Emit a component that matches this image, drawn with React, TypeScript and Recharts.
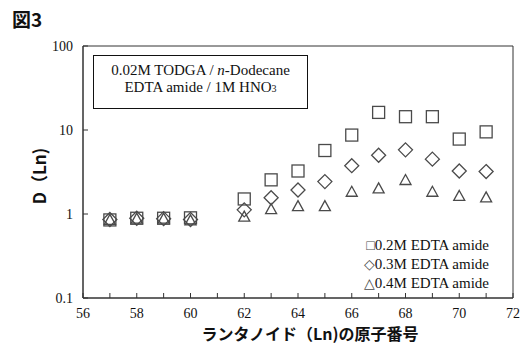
import React from "react";
import {
  ScatterChart,
  Scatter,
  XAxis,
  YAxis,
  ReferenceArea,
} from "recharts";

// atomic numbers of the lanthanides measured (Pm, 61, skipped)
const atomicNumbers = [57, 58, 59, 60, 62, 63, 64, 65, 66, 67, 68, 69, 70, 71];

// distribution ratios D(Ln) for each EDTA amide concentration
const d02M = [0.85, 0.89, 0.89, 0.9, 1.51, 2.55, 3.25, 5.7, 8.7, 16.2, 14.4, 14.4, 7.8, 9.5];
const d03M = [0.86, 0.89, 0.88, 0.86, 1.12, 1.56, 1.93, 2.43, 3.76, 5.0, 5.8, 4.5, 3.25, 3.2];
const d04M = [0.85, 0.88, 0.88, 0.84, 0.93, 1.14, 1.24, 1.24, 1.84, 2.02, 2.54, 1.84, 1.64, 1.58];

const xTicks = [56, 57, 58, 59, 60, 61, 62, 63, 64, 65, 66, 67, 68, 69, 70, 71, 72];
const yTicks = [0.1, 1, 10, 100];

const seriesNames = ["0.2M EDTA amide", "0.3M EDTA amide", "0.4M EDTA amide"];
const legendGlyphs = ["□", "◇", "△"];

const MARK = "#4a4a4a";
const AXIS = "#333";
const INK = "#111";
const SERIF = "'Liberation Serif', 'DejaVu Serif', serif";
const SANS_JP = "'Noto Sans CJK JP', 'Noto Sans', sans-serif";

const toPoints = (ys: number[]) => atomicNumbers.map((x, i) => ({ x, y: ys[i] }));

const SquareMark = (p: any) => (
  <rect x={p.cx - 6} y={p.cy - 6} width={12} height={12} fill="none" stroke={MARK} strokeWidth={1.3} />
);

const DiamondMark = (p: any) => (
  <polygon
    points={`${p.cx},${p.cy - 7} ${p.cx + 7},${p.cy} ${p.cx},${p.cy + 7} ${p.cx - 7},${p.cy}`}
    fill="none"
    stroke={MARK}
    strokeWidth={1.3}
  />
);

const TriangleMark = (p: any) => (
  <polygon
    points={`${p.cx},${p.cy - 5.5} ${p.cx + 5.5},${p.cy + 4.5} ${p.cx - 5.5},${p.cy + 4.5}`}
    fill="none"
    stroke={MARK}
    strokeWidth={1.3}
  />
);

export default function App() {
  const tickStyle = { fill: INK, stroke: "none", fontSize: 14, fontFamily: SERIF };

  return (
    <div style={{ position: "absolute", left: 0, top: 0, width: 525, height: 347, background: "#fff" }}>
      <ScatterChart width={525} height={347} margin={{ top: 46, right: 12, bottom: 0, left: 0 }}>
        <XAxis
          type="number"
          dataKey="x"
          domain={[56, 72]}
          ticks={xTicks}
          interval={0}
          tickFormatter={(v) => (v % 2 === 0 ? String(v) : "")}
          height={49}
          stroke={AXIS}
          tickSize={-5}
          tickMargin={15}
          tick={tickStyle}
        />
        <YAxis
          type="number"
          dataKey="y"
          scale="log"
          domain={[0.1, 100]}
          ticks={yTicks}
          allowDataOverflow
          width={83}
          stroke={AXIS}
          tickSize={-5}
          tickMargin={15}
          tick={tickStyle}
          tickFormatter={(v) => String(v)}
        />
        <ReferenceArea x1={56} x2={72} y1={0.1} y2={100} fill="none" stroke={AXIS} strokeWidth={1} />
        <Scatter data={toPoints(d02M)} shape={SquareMark} isAnimationActive={false} />
        <Scatter data={toPoints(d03M)} shape={DiamondMark} isAnimationActive={false} />
        <Scatter data={toPoints(d04M)} shape={TriangleMark} isAnimationActive={false} />
      </ScatterChart>

      <div style={{ position: "absolute", left: 12, top: 5, fontFamily: SANS_JP, fontWeight: 700, fontSize: 19, color: INK }}>
        図3
      </div>

      <div
        style={{
          position: "absolute",
          left: 38,
          top: 176,
          transform: "translate(-50%, -50%) rotate(-90deg)",
          fontFamily: SANS_JP,
          fontWeight: 700,
          fontSize: 17,
          color: INK,
          whiteSpace: "nowrap",
        }}
      >
        D（Ln)
      </div>

      <div
        style={{
          position: "absolute",
          left: 310,
          top: 333,
          transform: "translate(-50%, -50%)",
          fontFamily: SANS_JP,
          fontWeight: 700,
          fontSize: 16,
          color: INK,
          whiteSpace: "nowrap",
        }}
      >
        ランタノイド（Ln)の原子番号
      </div>

      <div
        style={{
          position: "absolute",
          left: 93,
          top: 55,
          width: 213,
          height: 46,
          border: `1.3px solid ${INK}`,
          fontFamily: SERIF,
          fontSize: 15,
          lineHeight: "17px",
          color: INK,
          textAlign: "center",
          paddingTop: 6,
          boxSizing: "content-box",
        }}
      >
        <div>
          0.02M TODGA / <i>n</i>-Dodecane
        </div>
        <div>
          EDTA amide / 1M HNO<span style={{ fontSize: 10 }}>3</span>
        </div>
      </div>

      <div
        style={{
          position: "absolute",
          right: 36,
          top: 236,
          fontFamily: SERIF,
          fontSize: 15,
          lineHeight: "18px",
          color: INK,
          textAlign: "right",
          whiteSpace: "nowrap",
        }}
      >
        {seriesNames.map((name, i) => (
          <div key={name}>
            <span style={{ fontSize: 14, color: MARK }}>{legendGlyphs[i]}</span>
            {name}
          </div>
        ))}
      </div>
    </div>
  );
}
